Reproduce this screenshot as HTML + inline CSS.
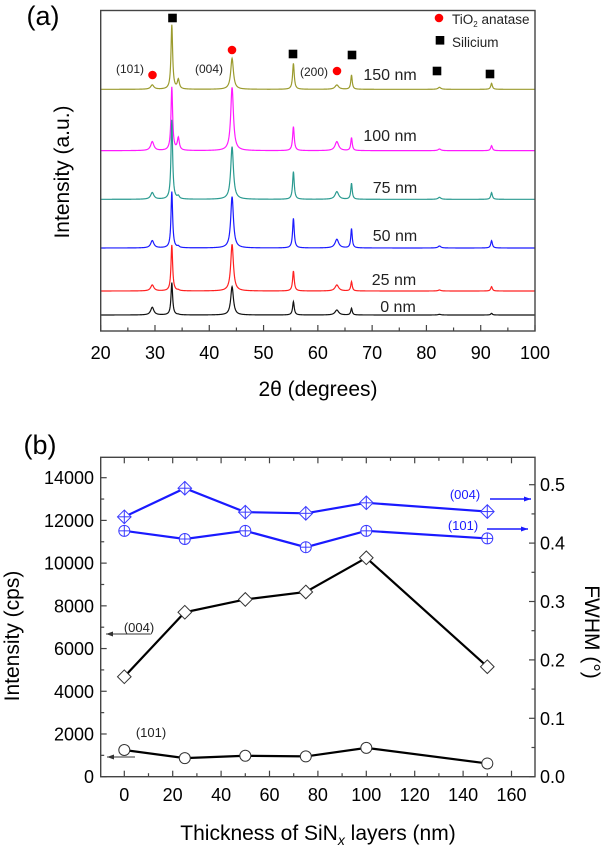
<!DOCTYPE html>
<html><head><meta charset="utf-8"><style>
body{margin:0;background:#fff}
svg{display:block;font-family:"Liberation Sans",Arial,sans-serif}
</style></head><body>
<svg id="fig" width="605" height="851" viewBox="0 0 605 851">
<g id="ga"></g>
<g id="gb"></g>
</svg>
<script>
// ---- Panel (a) data ----
const peakPositions = [29.5, 33.1, 34.3, 44.2, 55.5, 63.5, 66.2, 82.4, 92.0];
const peakWidths = [0.35, 0.18, 0.22, 0.3, 0.18, 0.4, 0.16, 0.3, 0.18];
const sampleNames = ["150 nm","100 nm","75 nm","50 nm","25 nm","0 nm"];
const sampleColors = ["#9b9b2e","#ff1aff","#2a9a90","#1a1aff","#ff2020","#111111"];
const sampleOffsets = [725, 541, 395, 249, 120, 48];
const h150 = [13,193,28,93,78,13,43,6,18];
const h100 = [27,190,37,190,72,27,39,5,15];
const h75 = [20,238,8,158,83,23,48,6,20];
const h50 = [22,169,4,154,89,26,58,6,22];
const h25 = [18,138,2,140,60,18,28,3,13];
const h0 = [23,97,1,85,40,15,20,2,5];
const xTicksA = [20,30,40,50,60,70,80,90,100];
// ---- Panel (b) data ----
const thickness = [0,25,50,75,100,150];
const int004 = [4680,7700,8300,8650,10250,5150];
const int101 = [1250,870,980,950,1350,620];
const fwhm004 = [0.445,0.494,0.453,0.451,0.469,0.454];
const fwhm101 = [0.421,0.407,0.421,0.393,0.421,0.408];
const xTicksB = [0,20,40,60,80,100,120,140,160];
const yTicksL = [0,2000,4000,6000,8000,10000,12000,14000];
const yTicksR = [0.0,0.1,0.2,0.3,0.4,0.5];

const NS="http://www.w3.org/2000/svg";
function mk(parent,tag,attrs,text){const e=document.createElementNS(NS,tag);for(const k in attrs)e.setAttribute(k,attrs[k]);if(text!==undefined)e.textContent=text;parent.appendChild(e);return e;}

// ===== Panel A =====
const ga=document.getElementById('ga');
const AL=100.7,AR=535,AT=10.5,AB=331;
const xa=v=>AL+(v-20)/80*(AR-AL);
const ya=v=>AB-v/3;
let t;
t=mk(ga,'text',{x:43,y:25,'font-size':27,'text-anchor':'middle'},'(a)');

const heights=[h150,h100,h75,h50,h25,h0];
const labelPos=[[390,80],[390,141],[395,193],[395,241],[394,285],[398,312]];
for(let s=0;s<6;s++){
  let d='';
  for(let i=0;i<=1600;i++){
    const x=20+i*0.05;let v=sampleOffsets[s];
    for(let p=0;p<peakPositions.length;p++){const w=peakWidths[p];const dx=(x-peakPositions[p])/w;v+=heights[s][p]/(1+dx*dx);}
    d+=(i?'L':'M')+xa(x).toFixed(2)+' '+ya(v).toFixed(2);
  }
  const pth=mk(ga,'path',{d:d,fill:'none',stroke:sampleColors[s],'stroke-width':1.2});
  
  
  const lb=mk(ga,'text',{x:labelPos[s][0],y:labelPos[s][1],'font-size':16,'text-anchor':'middle',fill:'#222'},sampleNames[s]);
  
}
// frame
const fa=mk(ga,'rect',{x:AL,y:AT,width:AR-AL,height:AB-AT,fill:'none',stroke:'#444','stroke-width':1.4});

for(let v=20;v<=100;v+=5){
  const major=v%10===0;
  const tk=mk(ga,'line',{x1:xa(v),x2:xa(v),y1:AB,y2:AB-(major?6:3.5),stroke:'#444','stroke-width':1.2});
  
}
xTicksA.forEach(v=>{const e=mk(ga,'text',{x:xa(v),y:359,'font-size':18,'text-anchor':'middle'},String(v));
 });
t=mk(ga,'text',{x:318,y:396,'font-size':21,'text-anchor':'middle'},'2θ (degrees)');

t=mk(ga,'text',{x:0,y:0,'font-size':21,'text-anchor':'middle',transform:'translate(69,172) rotate(-90)'},'Intensity (a.u.)');

// markers
[[172.5,18],[293,54],[352,55],[437,71],[490,74]].forEach(p=>{const e=mk(ga,'rect',{x:p[0]-4.3,y:p[1]-4.3,width:8.6,height:8.6,fill:'#000'});
 });
[[152.5,75],[232,50],[337,71]].forEach(p=>{const e=mk(ga,'circle',{cx:p[0],cy:p[1],r:4.3,fill:'#f00'});
 });
[['(101)',130,73],['(004)',209,73],['(200)',314,76]].forEach(a=>{const e=mk(ga,'text',{x:a[1],y:a[2],'font-size':12,'text-anchor':'middle',fill:'#222'},a[0]);
 });
// legend
const lg=mk(ga,'g',{});
let le=mk(lg,'circle',{cx:439,cy:18,r:4.3,fill:'#f00'});
le=mk(lg,'text',{x:452,y:24,'font-size':13.5,fill:'#222'});
le.innerHTML='TiO<tspan font-size="8" dy="3">2</tspan><tspan dy="-3"> anatase</tspan>';
le=mk(lg,'rect',{x:435.7,y:36,width:8.6,height:8.6,fill:'#000'});
le=mk(lg,'text',{x:452,y:47,'font-size':13.5,fill:'#222'},'Silicium');

// ===== Panel B =====
const gb=document.getElementById('gb');
const BL=100.7,BR=535,BT=457.3,BB=776.7;
const xb=v=>124.3+v/160*(511.5-124.3);
const yl=v=>BB-v/14000*(BB-477.7);
const yr=v=>BB-v/0.1*58.4;
t=mk(gb,'text',{x:40,y:454,'font-size':27,'text-anchor':'middle'},'(b)');

const fb=mk(gb,'rect',{x:BL,y:BT,width:BR-BL,height:BB-BT,fill:'none',stroke:'#444','stroke-width':1.4});

for(let v=-10;v<=170;v+=10){
  const X=xb(v);if(X<BL+1||X>BR-1)continue;const major=v%20===0;const L=major?6:3.5;
  let e=mk(gb,'line',{x1:X,x2:X,y1:BB,y2:BB-L,stroke:'#444','stroke-width':1.2});
  e=mk(gb,'line',{x1:X,x2:X,y1:BT,y2:BT+L,stroke:'#444','stroke-width':1.2});
}
for(let v=0;v<=15000;v+=1000){const Y=yl(v);if(Y<BT+1)continue;const major=v%2000===0;
  const e=mk(gb,'line',{x1:BL,x2:BL+(major?6:3.5),y1:Y,y2:Y,stroke:'#444','stroke-width':1.2});}
for(let v=0;v<=0.55;v+=0.05){const Y=yr(v);if(Y<BT+1)continue;const major=Math.round(v*100)%10===0;
  const e=mk(gb,'line',{x1:BR,x2:BR-(major?6:3.5),y1:Y,y2:Y,stroke:'#444','stroke-width':1.2});}
xTicksB.forEach(v=>{const e=mk(gb,'text',{x:xb(v),y:801,'font-size':18,'text-anchor':'middle'},String(v));});
yTicksL.forEach(v=>{const e=mk(gb,'text',{x:94,y:yl(v)+6.5,'font-size':18,'text-anchor':'end'},String(v));});
yTicksR.forEach(v=>{const e=mk(gb,'text',{x:540,y:yr(v)+6.5,'font-size':18},v.toFixed(1));});
t=mk(gb,'text',{x:318,y:840,'font-size':21,'text-anchor':'middle'});
t.innerHTML='Thickness of SiN<tspan font-size="14" font-style="italic" dy="5">x</tspan><tspan dy="-5"> layers (nm)</tspan>';

t=mk(gb,'text',{x:0,y:0,'font-size':21,'text-anchor':'middle',transform:'translate(19,636) rotate(-90)'},'Intensity (cps)');

t=mk(gb,'text',{x:0,y:0,'font-size':21,'text-anchor':'middle',transform:'translate(585,632) rotate(90)'},'FWHM (°)');


function series(vals,yf,color,shape,name){
  const pts=thickness.map((x,i)=>[xb(x),yf(vals[i])]);
  const pl=mk(gb,'polyline',{points:pts.map(p=>p.join(',')).join(' '),fill:'none',stroke:color,'stroke-width':2.2});
  
  pts.forEach(p=>{
    const g=mk(gb,'g',{});
    const sc=color==='#000'?'#333':'#3a3aff';
    if(shape==='circle'||shape==='circleplus'){mk(g,'circle',{cx:p[0],cy:p[1],r:5.5,fill:'#fff',stroke:sc,'stroke-width':1});}
    else{const r=6.8;mk(g,'polygon',{points:`${p[0]},${p[1]-r} ${p[0]+r},${p[1]} ${p[0]},${p[1]+r} ${p[0]-r},${p[1]}`,fill:'#fff',stroke:sc,'stroke-width':1});}
    if(shape.endsWith('plus')){const r=shape==='circleplus'?5.5:6.8;
      mk(g,'line',{x1:p[0]-r,x2:p[0]+r,y1:p[1],y2:p[1],stroke:sc,'stroke-width':1});
      mk(g,'line',{x1:p[0],x2:p[0],y1:p[1]-r,y2:p[1]+r,stroke:sc,'stroke-width':1});}
  });
}
series(int004,yl,'#000','diamond','intensity-004');
series(int101,yl,'#000','circle','intensity-101');
series(fwhm004,yr,'#1a1aff','diamondplus','fwhm-004');
series(fwhm101,yr,'#1a1aff','circleplus','fwhm-101');

function arrow(x1,x2,y,color,w,name){
  const g=mk(gb,'g',{});
  mk(g,'line',{x1:x1,x2:x2,y1:y,y2:y,stroke:color,'stroke-width':w});
  const d=x2>x1?1:-1;mk(g,'polygon',{points:`${x2},${y} ${x2-d*7},${y-2.5} ${x2-d*7},${y+2.5}`,fill:color});
}
[['(004)',139,632,'#222'],['(101)',151,737,'#222'],['(004)',465,499,'#1a1aff'],['(101)',463,530,'#1a1aff']].forEach(a=>{
  const e=mk(gb,'text',{x:a[1],y:a[2],'font-size':13,'text-anchor':'middle',fill:a[3]},a[0]);});
arrow(150,106,634,'#333',1,'arrow-004-left');
arrow(135,107,757,'#333',1,'arrow-101-left');
arrow(490,531,499,'#1a1aff',1.4,'arrow-004-right');
arrow(487,528,529,'#1a1aff',1.4,'arrow-101-right');
</script>
</body></html>
